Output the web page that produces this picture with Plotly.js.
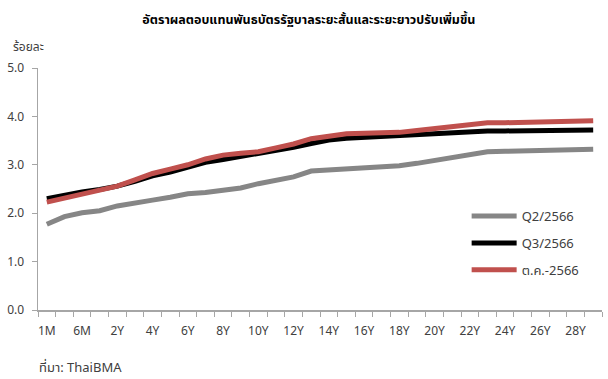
<!DOCTYPE html>
<html>
<head>
<meta charset="utf-8">
<script src="https://cdn.plot.ly/plotly-3.0.1.min.js"></script>
<style>html,body{margin:0;padding:0;background:#fff;}#chart{width:608px;height:379px;}</style>
</head>
<body>
<div id="chart"></div>
<script>
const categories = ["1M","3M","6M","1Y","2Y","3Y","4Y","5Y","6Y","7Y","8Y","9Y","10Y","11Y","12Y","13Y","14Y","15Y","16Y","17Y","18Y","19Y","20Y","21Y","22Y","23Y","24Y","25Y","26Y","27Y","28Y","30Y"];
const seriesNames = ["Q2/2566","Q3/2566","ต.ค.-2566"];
const q2_2566 = [1.77,1.93,2.01,2.05,2.15,2.20,2.27,2.33,2.40,2.43,2.48,2.52,2.61,2.68,2.75,2.87,2.89,2.91,2.93,2.95,2.98,3.03,3.09,3.15,3.21,3.27,3.28,3.29,3.29,3.30,3.31,3.32];
const q3_2566 = [2.30,2.38,2.44,2.49,2.56,2.66,2.77,2.85,2.94,3.05,3.11,3.17,3.22,3.29,3.36,3.44,3.51,3.55,3.57,3.60,3.61,3.63,3.65,3.67,3.69,3.70,3.70,3.70,3.71,3.71,3.72,3.72];
const oct_2566 = [2.23,2.31,2.38,2.46,2.56,2.69,2.82,2.91,3.00,3.12,3.20,3.24,3.27,3.35,3.43,3.54,3.58,3.64,3.65,3.66,3.67,3.71,3.75,3.79,3.83,3.87,3.87,3.88,3.89,3.90,3.91,3.91];
const tickLabels = categories.map((c,i) => i % 2 === 0 ? c : "");
const yTicks = [0,1,2,3,4,5];
const yTickText = yTicks.map(v => v.toFixed(1));

const titleText = "อัตราผลตอบแทนพันธบัตรรัฐบาลระยะสั้นและระยะยาวปรับเพิ่มขึ้น";
const unitText = "ร้อยละ";
const sourceText = "ที่มา: ThaiBMA";

const thaiFont = "Tahoma, 'Noto Sans Thai', 'Noto Sans', sans-serif";
const colors = ["#868686","#000000","#c0504d"];
const values = [q2_2566, q3_2566, oct_2566];

const traces = values.map((v,i) => ({
  x: categories, y: v, type: "scatter", mode: "lines",
  name: seriesNames[i], legendgroup: "g"+i,
  line: {color: colors[i], width: 5}
}));

const layout = {
  width: 608, height: 379,
  margin: {l: 38, r: 6, t: 68, b: 69},
  paper_bgcolor: "#fff", plot_bgcolor: "#fff",
  font: {family: thaiFont, color: "#404040", size: 12},
  title: {text: "<b>" + titleText + "</b>", x: 0.508, xanchor: "center", y: 0.947, yanchor: "middle",
          font: {family: thaiFont, size: 12.5, color: "#000"}},
  showlegend: true,
  legend: {x: 0.76, xanchor: "left", y: 0.45, yanchor: "top", traceorder: "grouped", tracegroupgap: 7,
           bgcolor: "rgba(0,0,0,0)", font: {size: 13, color: "#404040"}, itemwidth: 45},
  xaxis: {type: "category", tickmode: "array", tickvals: categories, ticktext: tickLabels,
          tickson: "boundaries", ticks: "outside", ticklen: 5, tickcolor: "#a6a6a6", tickangle: 0,
          ticklabelstandoff: 9,
          showline: true, linecolor: "#a6a6a6", linewidth: 1.5, showgrid: false, zeroline: false,
          range: [-0.5, categories.length - 0.5], tickfont: {size: 12, color: "#404040"}},
  yaxis: {range: [0,5], tickmode: "array", tickvals: yTicks, ticktext: yTickText,
          ticks: "outside", ticklen: 5, tickcolor: "#a6a6a6", showline: true, linecolor: "#a6a6a6", linewidth: 1.5,
          ticklabelstandoff: 5,
          showgrid: false, zeroline: false, tickfont: {size: 12, color: "#404040"}},
  annotations: [
    {text: unitText, xref: "paper", yref: "paper", x: -0.047, y: 1.087, xanchor: "left", yanchor: "middle",
     showarrow: false, font: {size: 12, color: "#404040"}},
    {text: sourceText, xref: "paper", yref: "paper", x: -0.002, y: -0.24, xanchor: "left", yanchor: "middle",
     showarrow: false, font: {size: 13, color: "#404040"}}
  ]
};
Plotly.newPlot("chart", traces, layout, {displayModeBar: false, staticPlot: true});
</script>
</body>
</html>
